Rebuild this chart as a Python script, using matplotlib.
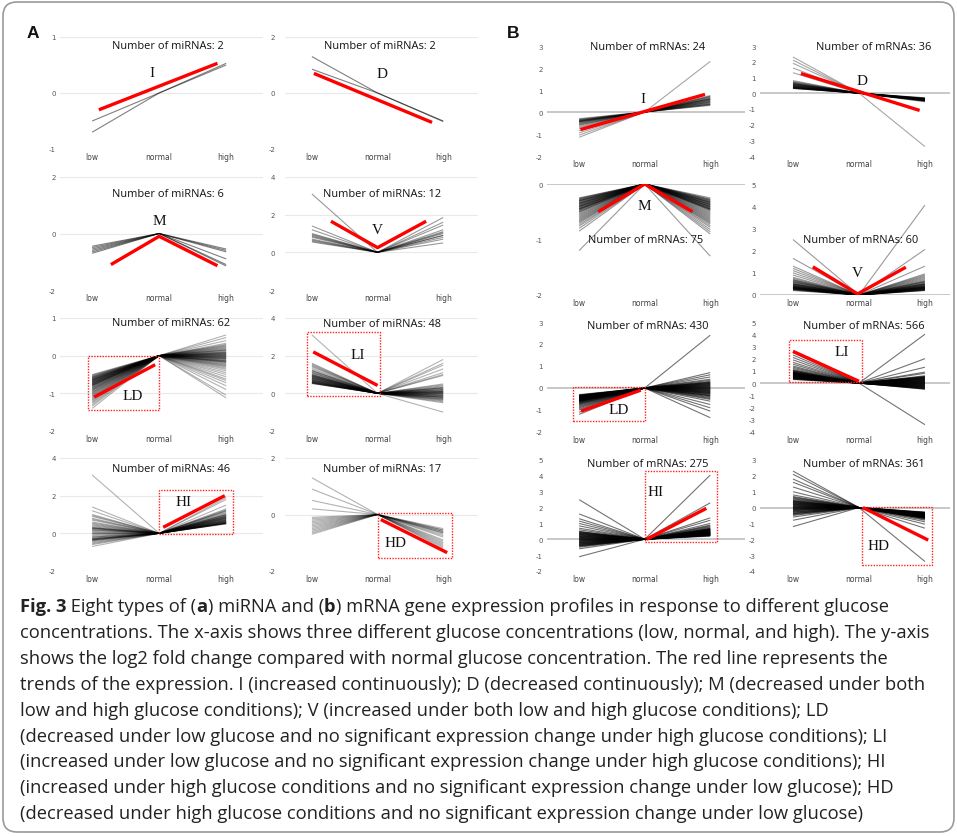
import matplotlib
matplotlib.use("Agg")
import matplotlib.pyplot as plt
from matplotlib.patches import Rectangle, FancyBboxPatch

# ---------------- DATA ----------------
conditions = ["low", "normal", "high"]

# Panel A (miRNA) : log2 fold change at low and high glucose (normal = 0)
A_I_low = [-0.50, -0.70]
A_I_high = [0.50, 0.53]
A_I_red = ([0.10, 1.87], [-0.30, 0.53])

A_D_low = [1.30, 0.85]
A_D_high = [-1.00, -1.02]
A_D_red = ([0.03, 1.83], [0.70, -1.05])

A_M_low = [-0.45, -0.50, -0.55, -0.60, -0.65, -0.70]
A_M_high = [-0.55, -1.15, -0.65, -0.90, -0.60, -1.10]
A_M_red = ([0.28, 1.00, 1.87], [-1.10, -0.10, -1.14])

A_V_low = [3.10, 1.40, 1.20, 1.00, 0.95, 0.90, 0.85, 0.80, 0.70, 0.65, 0.60, 0.55]
A_V_high = [0.90, 1.85, 1.60, 1.45, 1.20, 1.10, 1.05, 1.00, 0.90, 0.80, 0.70, 0.50]
A_V_red = ([0.29, 1.00, 1.74], [1.65, 0.25, 1.65])

A_LD_low = [-0.50, -0.53, -0.55, -0.57, -0.58, -0.60, -0.61, -0.62, -0.63, -0.64,
            -0.65, -0.66, -0.67, -0.68, -0.69, -0.70, -0.71, -0.72, -0.73, -0.74,
            -0.75, -0.76, -0.77, -0.78, -0.79, -0.80, -0.81, -0.82, -0.84, -0.85,
            -0.86, -0.88, -0.89, -0.90, -0.92, -0.93, -0.95, -0.97, -0.98, -1.00,
            -1.02, -1.04, -1.06, -1.08, -1.10, -1.12, -1.15, -1.17, -1.20, -1.23,
            -1.26, -1.30, -1.34, -1.40, -0.52, -0.56, -0.59, -0.63, -0.66, -0.70,
            -0.74, -0.78]
A_LD_high = [0.55, 0.48, 0.40, 0.33, 0.30, 0.28, 0.26, 0.24, 0.22, 0.20,
             0.18, 0.16, 0.14, 0.12, 0.10, 0.09, 0.08, 0.06, 0.05, 0.04,
             0.03, 0.02, 0.01, 0.00, -0.01, -0.02, -0.03, -0.04, -0.05, -0.06,
             -0.08, -0.09, -0.10, -0.12, -0.13, -0.15, -0.16, -0.18, -0.20, -0.22,
             -0.24, -0.26, -0.28, -0.30, -0.33, -0.36, -0.40, -0.45, -0.50, -0.56,
             -0.62, -0.66, -0.72, -0.80, -0.90, -1.05, -1.12, -0.14, -0.07, 0.15,
             0.07, -0.17]
A_LD_red = ([0.03, 0.94], [-1.10, -0.24])

A_LI_low = [3.10, 1.60, 1.55, 1.50, 1.45, 1.40, 1.32, 1.25,
            1.20, 1.15, 1.10, 1.05, 1.00, 0.98, 0.95, 0.92,
            0.90, 0.88, 0.85, 0.82, 0.80, 0.78, 0.75, 0.72,
            0.70, 0.68, 0.66, 0.64, 0.62, 0.60, 0.58, 0.56,
            0.55, 0.54, 0.53, 0.52, 0.90, 0.85, 0.80, 0.75,
            0.70, 0.65, 0.60, 1.10, 1.20, 1.00, 0.95, 0.58]
A_LI_high = [1.00, 1.80, 1.60, 1.50, 1.30, 1.10, 0.95, 0.50,
             0.45, 0.40, 0.35, 0.30, 0.28, 0.25, 0.20, 0.18,
             0.15, 0.12, 0.10, 0.08, 0.05, 0.03, 0.00, -0.02,
             -0.05, -0.08, -0.10, -0.12, -0.15, -0.18, -0.20, -0.22,
             -0.25, -0.28, -0.30, -0.33, -0.36, -0.40, -0.45, -0.50,
             -1.00, 0.20, 0.10, 0.00, -0.10, -0.20, 0.30, 0.05]
A_LI_red = ([0.02, 1.00], [2.20, 0.42])

A_HI_low = [3.10, 1.40, 1.20, 1.00, 0.90, 0.80, 0.75, 0.70,
            0.60, 0.55, 0.50, 0.45, 0.40, 0.35, 0.30, 0.28,
            0.25, 0.20, 0.18, 0.15, 0.10, 0.05, 0.00, -0.05,
            -0.10, -0.15, -0.20, -0.25, -0.28, -0.30, -0.33, -0.35,
            -0.38, -0.40, -0.45, -0.50, -0.55, -0.60, -0.70, 0.25,
            0.30, -0.30, -0.35, 0.00, 0.95, -0.20]
A_HI_high = [1.00, 1.90, 1.80, 1.50, 1.30, 1.25, 1.20, 1.15,
             1.10, 1.05, 0.98, 0.95, 0.92, 0.90, 0.88, 0.85,
             0.82, 0.80, 0.78, 0.75, 0.72, 0.70, 0.68, 0.66,
             0.64, 0.62, 0.60, 0.58, 0.56, 0.55, 0.54, 0.53,
             0.52, 0.51, 0.50, 0.60, 0.70, 0.80, 0.90, 1.00,
             0.55, 0.57, 0.65, 0.75, 0.85, 1.20]
A_HI_red = ([1.06, 1.98], [0.32, 2.00])

A_HD_low = [1.30, 0.90, 0.50, 0.20, -0.10, -0.15, -0.20, -0.25, -0.30,
            -0.35, -0.40, -0.45, -0.50, -0.55, -0.60, -0.65, -0.70]
A_HD_high = [-0.90, -1.00, -1.10, -1.20, -0.80, -0.50, -0.55, -0.60, -0.65,
             -0.70, -0.55, -0.60, -1.15, -0.95, -0.65, -0.75, -1.05]
A_HD_red = ([1.05, 2.06], [-0.18, -1.35])

# Panel B (mRNA)
B_I_low = [-0.30, -0.33, -0.35, -0.37, -0.38, -0.40, -0.42, -0.43, -0.45, -0.47,
           -0.50, -0.52, -0.55, -0.58, -0.60, -0.65, -0.70, -0.75, -0.85, -0.95,
           -1.05, -1.15, -0.40, -0.45]
B_I_high = [0.30, 0.32, 0.35, 0.37, 0.40, 0.42, 0.45, 0.48, 0.50, 0.52,
            0.55, 0.58, 0.60, 0.62, 0.65, 0.68, 0.70, 0.72, 0.75, 0.55,
            0.45, 0.60, 2.30, 0.35]
B_I_red = ([0.02, 1.92], [-0.80, 0.80])

B_D_low = [2.30, 2.10, 1.90, 1.60, 1.30, 0.80, 0.75, 0.70, 0.68, 0.65,
           0.62, 0.60, 0.58, 0.55, 0.52, 0.50, 0.48, 0.46, 0.45, 0.43,
           0.42, 0.40, 0.38, 0.37, 0.36, 0.35, 0.34, 0.33, 0.32, 0.31,
           0.30, 0.30, 0.50, 0.55, 0.60, 0.40]
B_D_high = [-3.40, -0.50, -0.55, -0.45, -0.40, -0.30, -0.32, -0.34, -0.35, -0.36,
            -0.37, -0.38, -0.39, -0.40, -0.41, -0.42, -0.43, -0.44, -0.45, -0.46,
            -0.47, -0.48, -0.35, -0.38, -0.40, -0.42, -0.30, -0.33, -0.36, -0.39,
            -0.42, -0.45, -0.48, -0.50, -0.52, -0.40]
B_D_red = ([0.12, 1.92], [1.25, -1.10])

B_M_low = [-0.25, -0.26, -0.27, -0.28, -0.29, -0.30, -0.31, -0.32, -0.33, -0.34,
           -0.35, -0.36, -0.37, -0.38, -0.39, -0.40, -0.41, -0.42, -0.43, -0.44,
           -0.45, -0.46, -0.47, -0.48, -0.50, -0.52, -0.54, -0.56, -0.58, -0.60,
           -0.62, -0.64, -0.66, -0.68, -0.70, -0.73, -0.76, -0.80, -0.85, -1.20,
           -0.30, -0.35, -0.40, -0.45, -0.50]
B_M_high = [-0.25, -0.27, -0.28, -0.30, -0.31, -0.32, -0.33, -0.34, -0.35, -0.36,
            -0.37, -0.38, -0.39, -0.40, -0.41, -0.42, -0.43, -0.44, -0.45, -0.46,
            -0.47, -0.48, -0.50, -0.52, -0.54, -0.56, -0.58, -0.60, -0.62, -0.64,
            -0.66, -0.68, -0.70, -0.72, -0.75, -0.78, -0.82, -0.86, -0.90, -1.30,
            -0.29, -0.33, -0.37, -0.41, -0.45]
B_M_red = ([0.29, 1.00, 1.73], [-0.50, 0.00, -0.50])

B_V_low = [2.50, 1.65, 1.30, 1.20, 1.10, 1.00, 0.90, 0.80, 0.75, 0.70,
           0.68, 0.65, 0.62, 0.60, 0.58, 0.55, 0.52, 0.50, 0.48, 0.46,
           0.45, 0.43, 0.42, 0.40, 0.38, 0.37, 0.36, 0.35, 0.34, 0.33,
           0.32, 0.31, 0.30, 0.29, 0.28, 0.27, 0.26, 0.25, 0.24, 0.22,
           0.20, 0.30, 0.40, 0.50, 0.35]
B_V_high = [4.05, 2.05, 1.30, 0.95, 0.90, 0.85, 0.80, 0.75, 0.70, 0.65,
            0.62, 0.60, 0.58, 0.55, 0.52, 0.50, 0.48, 0.46, 0.45, 0.43,
            0.42, 0.40, 0.38, 0.37, 0.36, 0.35, 0.34, 0.33, 0.32, 0.31,
            0.30, 0.29, 0.28, 0.27, 0.26, 0.25, 0.24, 0.23, 0.22, 0.21,
            0.20, 0.30, 0.40, 0.50, 0.35]
B_V_red = ([0.30, 0.98, 1.71], [1.27, 0.05, 1.25])

B_LD_low = [-0.30, -0.32, -0.33, -0.35, -0.36, -0.38, -0.39, -0.40, -0.42, -0.43,
            -0.45, -0.46, -0.48, -0.49, -0.50, -0.52, -0.53, -0.55, -0.56, -0.58,
            -0.60, -0.62, -0.64, -0.66, -0.68, -0.70, -0.72, -0.75, -0.78, -0.82,
            -0.86, -0.90, -0.95, -1.00, -1.10, -1.20, -0.34, -0.37, -0.41, -0.44,
            -0.47, -0.51, -0.54, -0.57, -0.61, -0.40, -0.45, -0.50, -0.55, -0.60]
B_LD_high = [2.40, 0.70, 0.60, 0.50, 0.40, 0.35, 0.30, 0.27, 0.24, 0.21,
             0.18, 0.15, 0.12, 0.09, 0.06, 0.03, 0.00, -0.03, -0.06, -0.09,
             -0.12, -0.15, -0.18, -0.21, -0.24, -0.27, -0.30, -0.33, -0.36, -0.40,
             -0.44, -0.48, -0.52, -0.60, -0.75, -0.90, -1.05, -1.35, 0.10, 0.20,
             -0.10, -0.20, 0.25, -0.25, 0.05, -0.05, 0.15, -0.15, -0.35, 0.00]
B_LD_red = ([0.03, 0.94], [-1.05, -0.10])

B_LI_low = [2.50, 2.30, 2.10, 1.90, 1.70, 1.55, 1.40, 1.30, 1.20, 1.10,
            1.05, 1.00, 0.95, 0.90, 0.88, 0.85, 0.82, 0.80, 0.78, 0.75,
            0.72, 0.70, 0.68, 0.65, 0.62, 0.60, 0.58, 0.55, 0.52, 0.50,
            0.48, 0.45, 0.42, 0.40, 0.38, 0.35, 0.32, 0.30, 0.60, 0.70,
            0.80, 0.90, 0.50, 0.55, 0.65, 0.75, 0.85, 0.45, 0.40, 1.00]
B_LI_high = [4.00, 2.00, 1.30, 0.90, 0.80, 0.60, 0.55, 0.50, 0.45, 0.40,
             0.35, 0.30, 0.25, 0.20, 0.15, 0.10, 0.05, 0.00, -0.05, -0.10,
             -0.15, -0.20, -0.25, -0.30, -0.35, -0.40, -0.45, -0.50, -3.40, 0.12,
             0.22, 0.32, 0.42, 0.52, -0.02, -0.12, -0.22, -0.32, -0.42, 0.08,
             0.18, 0.28, 0.38, -0.08, -0.18, -0.28, -0.38, 0.02, 0.48, -0.48]
B_LI_red = ([0.00, 1.00], [2.60, 0.15])

B_HI_low = [2.50, 1.60, 1.30, 1.15, 1.00, 0.85, 0.70, 0.60, 0.50, 0.45,
            0.40, 0.35, 0.30, 0.25, 0.20, 0.15, 0.10, 0.05, 0.00, -0.05,
            -0.10, -0.15, -0.20, -0.25, -0.30, -0.35, -0.40, -0.45, -0.50, -0.60,
            -1.10, 0.42, 0.32, 0.22, 0.12, 0.02, -0.08, -0.18, -0.28, -0.38,
            0.38, 0.28, 0.18, 0.08, -0.02, -0.12, -0.22, -0.32, -0.42, 0.48]
B_HI_high = [4.05, 2.30, 1.35, 1.20, 1.00, 0.90, 0.85, 0.80, 0.75, 0.70,
             0.68, 0.65, 0.62, 0.60, 0.58, 0.55, 0.52, 0.50, 0.48, 0.46,
             0.44, 0.42, 0.40, 0.38, 0.36, 0.34, 0.32, 0.30, 0.28, 0.26,
             0.24, 0.22, 0.20, 0.63, 0.57, 0.53, 0.47, 0.43, 0.37, 0.33,
             0.27, 0.45, 0.35, 0.25, 0.55, 0.65, 0.41, 0.39, 0.31, 0.29]
B_HI_red = ([1.03, 1.94], [0.00, 1.95])

B_HD_low = [2.30, 2.10, 1.80, 1.60, 1.30, 1.00, 0.80, 0.70, 0.65, 0.60,
            0.55, 0.50, 0.45, 0.40, 0.35, 0.30, 0.25, 0.20, 0.15, 0.10,
            0.05, 0.00, -0.05, -0.10, -0.15, -0.20, -0.25, -0.30, -0.35, -0.40,
            -0.45, -0.50, -0.60, -0.80, -1.20, 0.42, 0.32, 0.22, 0.12, 0.02,
            -0.08, -0.18, -0.28, -0.38, 0.38, 0.28, 0.18, 0.08, -0.02, -0.12]
B_HD_high = [-3.40, -1.30, -1.05, -0.90, -0.80, -0.75, -0.70, -0.68, -0.65, -0.62,
             -0.60, -0.58, -0.56, -0.54, -0.52, -0.50, -0.48, -0.46, -0.44, -0.42,
             -0.40, -0.38, -0.36, -0.34, -0.32, -0.30, -0.28, -0.45, -0.55, -0.65,
             -0.35, -0.43, -0.53, -0.63, -0.33, -0.41, -0.51, -0.61, -0.37, -0.47,
             -0.57, -0.67, -0.39, -0.49, -0.59, -0.31, -0.44, -0.54, -0.64, -0.46]
B_HD_red = ([1.06, 2.05], [0.00, -2.05])

counts_A = [2, 2, 6, 12, 62, 48, 46, 17]
counts_B = [24, 36, 75, 60, 430, 566, 275, 361]
types = ["I", "D", "M", "V", "LD", "LI", "HI", "HD"]

caption_lines = [
    [("Fig. 3", "bold"), (" Eight types of (", "normal"), ("a", "bold"), (") miRNA and (", "normal"),
     ("b", "bold"), (") mRNA gene expression profiles in response to different glucose", "normal")],
    [("concentrations. The x-axis shows three different glucose concentrations (low, normal, and high). The y-axis", "normal")],
    [("shows the log2 fold change compared with normal glucose concentration. The red line represents the", "normal")],
    [("trends of the expression. I (increased continuously); D (decreased continuously); M (decreased under both", "normal")],
    [("low and high glucose conditions); V (increased under both low and high glucose conditions); LD", "normal")],
    [("(decreased under low glucose and no significant expression change under high glucose conditions); LI", "normal")],
    [("(increased under low glucose and no significant expression change under high glucose conditions); HI", "normal")],
    [("(increased under high glucose conditions and no significant expression change under low glucose); HD", "normal")],
    [("(decreased under high glucose conditions and no significant expression change under low glucose)", "normal")],
]

# ---------------- LAYOUT ----------------
W, H = 957, 837
fig = plt.figure(figsize=(W / 100, H / 100), dpi=100)
fig.patch.set_facecolor("white")

bg = fig.add_axes([0, 0, 1, 1])
bg.set_xlim(0, W)
bg.set_ylim(H, 0)
bg.axis("off")
bg.add_patch(FancyBboxPatch((3, 3), 951, 830, boxstyle="round,pad=0,rounding_size=14",
                            ec="#9a9a9a", fc="none", lw=1.2))
bg.text(33, 33, "A", fontsize=12.5, fontweight="bold", family="Liberation Sans",
        ha="center", va="center", color="#111")
bg.text(513, 33, "B", fontsize=12.5, fontweight="bold", family="Liberation Sans",
        ha="center", va="center", color="#111")

# column geometry: (left px, right px, xlim)
colsA = [(60, 263, (-0.48, 2.55)), (285, 478, (-0.41, 2.53))]
colsB = [(547, 745, (-0.49, 2.53)), (760, 950, (-0.50, 2.38))]
rowsA = [(38, 150), (178, 291), (319, 432), (459, 572)]
rowsB = [(47, 157), (185, 296), (323, 433), (461, 572)]

panelsA = [
    dict(low=A_I_low, high=A_I_high, red=A_I_red, ylim=(-1, 1), yt=[-1, 0, 1],
         lab=(0.90, 0.37), cnt=(1.13, 0.84), box=None, alpha=0.5),
    dict(low=A_D_low, high=A_D_high, red=A_D_red, ylim=(-2, 2), yt=[-2, 0, 2],
         lab=(1.07, 0.69), cnt=(1.04, 1.71), box=None, alpha=0.5),
    dict(low=A_M_low, high=A_M_high, red=A_M_red, ylim=(-2, 2), yt=[-2, 0, 2],
         lab=(1.00, 0.45), cnt=(1.13, 1.43), box=None, alpha=0.5),
    dict(low=A_V_low, high=A_V_high, red=A_V_red, ylim=(-2, 4), yt=[-2, 0, 2, 4],
         lab=(1.00, 1.20), cnt=(1.07, 3.10), box=None, alpha=0.4),
    dict(low=A_LD_low, high=A_LD_high, red=A_LD_red, ylim=(-2, 1), yt=[-2, -1, 0, 1],
         lab=(0.60, -1.05), cnt=(1.18, 0.88), box=(-0.06, -1.45, 1.0, 0.0), alpha=0.3),
    dict(low=A_LI_low, high=A_LI_high, red=A_LI_red, ylim=(-2, 4), yt=[-2, 0, 2, 4],
         lab=(0.70, 2.07), cnt=(1.07, 3.72), box=(-0.08, -0.15, 1.04, 3.25), alpha=0.3),
    dict(low=A_HI_low, high=A_HI_high, red=A_HI_red, ylim=(-2, 4), yt=[-2, 0, 2, 4],
         lab=(1.36, 1.70), cnt=(1.18, 3.46), box=(1.0, -0.05, 2.1, 2.3), alpha=0.3),
    dict(low=A_HD_low, high=A_HD_high, red=A_HD_red, ylim=(-2, 2), yt=[-2, 0, 2],
         lab=(1.27, -1.00), cnt=(1.07, 1.64), box=(1.0, -1.55, 2.13, 0.05), alpha=0.3),
]
panelsB = [
    dict(low=B_I_low, high=B_I_high, red=B_I_red, ylim=(-2, 3), yt=list(range(-2, 4)),
         lab=(0.97, 0.60), cnt=(1.05, 3.0), box=None, alpha=0.35),
    dict(low=B_D_low, high=B_D_high, red=B_D_red, ylim=(-4, 3), yt=list(range(-4, 4)),
         lab=(1.05, 0.80), cnt=(1.23, 3.0), box=None, alpha=0.35),
    dict(low=B_M_low, high=B_M_high, red=B_M_red, ylim=(-2, 0), yt=[-2, -1, 0],
         lab=(1.00, -0.38), cnt=(1.02, -1.0), box=None, alpha=0.4),
    dict(low=B_V_low, high=B_V_high, red=B_V_red, ylim=(0, 5), yt=list(range(0, 6)),
         lab=(0.97, 1.00), cnt=(1.03, 2.5), box=None, alpha=0.4),
    dict(low=B_LD_low, high=B_LD_high, red=B_LD_red, ylim=(-2, 3), yt=list(range(-2, 4)),
         lab=(0.60, -1.00), cnt=(1.05, 2.82), box=(-0.09, -1.5, 1.0, 0.05), alpha=0.55),
    dict(low=B_LI_low, high=B_LI_high, red=B_LI_red, ylim=(-4, 5), yt=list(range(-4, 6)),
         lab=(0.74, 2.60), cnt=(1.08, 4.7), box=(-0.06, 0.1, 1.05, 3.5), alpha=0.55),
    dict(low=B_HI_low, high=B_HI_high, red=B_HI_red, ylim=(-2, 5), yt=list(range(-2, 6)),
         lab=(1.17, 3.00), cnt=(1.05, 4.8), box=(1.0, -0.2, 2.1, 4.3), alpha=0.55),
    dict(low=B_HD_low, high=B_HD_high, red=B_HD_red, ylim=(-4, 3), yt=list(range(-4, 4)),
         lab=(1.30, -2.40), cnt=(1.08, 2.8), box=(1.05, -3.6, 2.1, 0.05), alpha=0.55),
]


def draw_panel(p, col, row, typ, count, word, gridstyle):
    left, right, xlim = col
    top, bottom = row
    ax = fig.add_axes([left / W, 1 - bottom / H, (right - left) / W, (bottom - top) / H])
    ax.set_xlim(*xlim)
    ax.set_ylim(*p["ylim"])
    for s in ax.spines.values():
        s.set_visible(False)
    ax.set_facecolor("none")
    ax.set_xticks(range(len(conditions)))
    ax.set_xticklabels(conditions)
    ax.set_yticks(p["yt"])
    ax.set_yticklabels([str(v) for v in p["yt"]])
    ax.tick_params(axis="x", length=0, pad=2.5, labelsize=5.5, labelcolor="#444")
    ax.tick_params(axis="y", length=0, pad=3 if col[0] < 270 or col[0] > 500 else 7,
                   labelsize=5, labelcolor="#555")
    if gridstyle == "A":
        ax.yaxis.grid(True, color="#e9e9e9", lw=0.8)
        ax.set_axisbelow(True)
    else:
        ax.axhline(0, color="#c4c4c4", lw=1.3, zorder=0)
    for lo, hi in zip(p["low"], p["high"]):
        ax.plot([0, 1, 2], [lo, 0, hi], color="black", alpha=p["alpha"], lw=0.8,
                solid_capstyle="butt", zorder=2)
    rx, ry = p["red"]
    ax.plot(rx, ry, color="#ff0000", lw=2.4, zorder=4, solid_capstyle="butt")
    if p["box"] is not None:
        x0, y0, x1, y1 = p["box"]
        ax.add_patch(Rectangle((x0, y0), x1 - x0, y1 - y0, fill=False, ec="#ff2020",
                               lw=1.0, ls=(0, (1, 1)), zorder=5, clip_on=False))
    ax.text(p["lab"][0], p["lab"][1], typ, family="Liberation Serif", fontsize=11,
            ha="center", va="center", color="#111", zorder=6)
    ax.text(p["cnt"][0], p["cnt"][1], f"Number of {word}: {count}", family="Open Sans",
            fontsize=7.9, ha="center", va="center", color="#111", zorder=6)


for i, p in enumerate(panelsA):
    draw_panel(p, colsA[i % 2], rowsA[i // 2], types[i], counts_A[i], "miRNAs", "A")
for i, p in enumerate(panelsB):
    draw_panel(p, colsB[i % 2], rowsB[i // 2], types[i], counts_B[i], "mRNAs", "B")

# caption
renderer = fig.canvas.get_renderer()
y0, dy = 612, 25.9
for k, parts in enumerate(caption_lines):
    x = 20
    y = y0 + k * dy
    for txt, wt in parts:
        t = bg.text(x, y, txt, fontsize=13.2, fontweight=wt, family="Open Sans",
                    ha="left", va="baseline", color="#222")
        bb = t.get_window_extent(renderer=renderer)
        x += bb.width

fig.savefig("out.png", dpi=100)
